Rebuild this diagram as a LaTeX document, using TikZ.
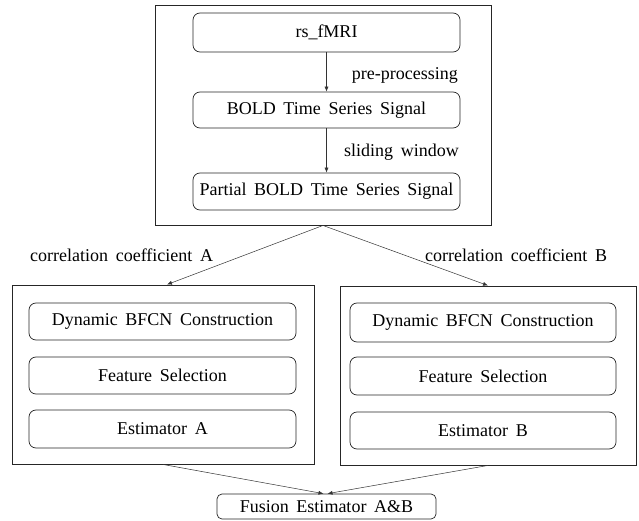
\documentclass[tikz,border=0pt]{standalone}
\usepackage{fontspec}
\setmainfont[WordSpace=1.7]{Liberation Serif}
\usetikzlibrary{arrows.meta,calc}
\tikzset{
  outerbox/.style={draw=black!85, line width=0.9pt, inner sep=0pt},
  stepbox/.style={draw=black!85, line width=0.7pt, rounded corners=7pt, inner sep=0pt, font=\fontsize{18}{21}\selectfont},
  lbl/.style={inner sep=0pt, font=\fontsize{18}{21}\selectfont},
  arr/.style={draw=black!80, line width=0.5pt, -{Latex[length=5pt,width=4pt]}},
}
\begin{document}
\begin{tikzpicture}[x=1pt,y=-1pt]
\useasboundingbox (0,0) rectangle (639,521);
% top group
\node[outerbox, minimum width=336, minimum height=220] (top) at (323,115) {};
\node[stepbox, minimum width=267, minimum height=39] (rs) at (326.5,32.5) {rs\_fMRI};
\node[stepbox, minimum width=267, minimum height=36] (bold) at (326.5,110) {BOLD Time Series Signal};
\node[stepbox, minimum width=267, minimum height=37] (partial) at (326.5,191.5) {Partial BOLD Time Series Signal};
\draw[arr] (rs) -- (bold);
\draw[arr] (bold) -- (partial);
\node[lbl, anchor=east] (pp) at (458,75) {pre-processing};
\node[lbl, anchor=east] (sw) at (459,152) {sliding window};
% left group
\node[outerbox, minimum width=302, minimum height=179] (left) at (163,374.5) {};
\node[stepbox, minimum width=267, minimum height=37] (dA) at (162.5,321.5) {Dynamic BFCN Construction};
\node[stepbox, minimum width=267, minimum height=37] (fA) at (162.5,375.5) {Feature Selection};
\node[stepbox, minimum width=267, minimum height=38] (eA) at (162.5,429) {Estimator A};
% right group
\node[outerbox, minimum width=296, minimum height=179] (right) at (488,375.5) {};
\node[stepbox, minimum width=266, minimum height=39] (dB) at (483,322.5) {Dynamic BFCN Construction};
\node[stepbox, minimum width=266, minimum height=38] (fB) at (483,376) {Feature Selection};
\node[stepbox, minimum width=266, minimum height=37] (eB) at (483,430.5) {Estimator B};
% labels
\node[lbl, anchor=west] (ccA) at (30,255) {correlation coefficient A};
\node[lbl, anchor=west] (ccB) at (425,255) {correlation coefficient B};
% fusion
\node[stepbox, minimum width=219, minimum height=25, rounded corners=5pt] (fus) at (326.5,506.5) {Fusion Estimator A\&B};
% connectors
\draw[arr] (top.south) -- ($(left.north)+(4,0)$);
\draw[arr] (top.south) -- (right.north);
\draw[arr] (left.south) -- ($(fus.north)+(-3,0)$);
\draw[arr] (right.south) -- ($(fus.north)+(1,0)$);
\end{tikzpicture}
\end{document}
